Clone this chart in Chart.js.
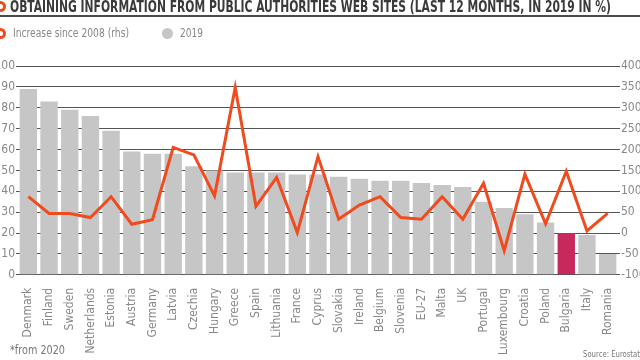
<!DOCTYPE html>
<html>
<head>
<meta charset="utf-8">
<script src="https://cdn.jsdelivr.net/npm/chart.js@4"></script>
<style>
  body { margin: 0; width: 640px; height: 360px; overflow: hidden; background: #fff; position: relative;
         font-family: 'DejaVu Sans Condensed', 'Liberation Sans Narrow', sans-serif; }
  #titulo { position: absolute; left: 0; top: 0; width: 640px; height: 15px; border-bottom: 2px solid #4a4a4a; }
  #titulo .txt { position: absolute; left: 10px; top: -2px; font-weight: bold; font-size: 15px; color: #3a3a3a;
                 white-space: nowrap; transform-origin: 0 0; }
  .anillo { position: absolute; width: 5px; height: 5px; border: 3px solid #f04a1e; border-radius: 50%; background: #fff; }
  #leyenda { position: absolute; left: 0; top: 25px; height: 16px; width: 640px; }
  #leyenda .txt { position: absolute; top: 0; font-size: 13px; color: #888; white-space: nowrap; transform-origin: 0 0; }
  .punto { position: absolute; width: 11px; height: 11px; border-radius: 50%; background: #c6c6c6; }
  #wrap { position: absolute; left: 0; top: 0; width: 640px; height: 360px; }
  #nota { position: absolute; left: 10px; top: 343px; font-size: 12px; color: #777; white-space: nowrap; transform-origin: 0 0; }
  #fuente { position: absolute; left: 583px; top: 349px; font-size: 9px; color: #777; white-space: nowrap; transform-origin: 0 0; }
</style>
</head>
<body>
<div id="wrap"><canvas id="grafico"></canvas></div>
<div id="titulo"><span class="anillo" style="left:-5px; top:1px;"></span><span class="txt" data-ancho="601">OBTAINING INFORMATION FROM PUBLIC AUTHORITIES WEB SITES (LAST 12 MONTHS, IN 2019 IN %)</span></div>
<div id="leyenda">
  <span class="anillo" style="left:-5px; top:3px;"></span>
  <span class="txt" style="left:13px;" data-ancho="116">Increase since 2008 (rhs)</span>
  <span class="punto" style="left:162px; top:3px;"></span>
  <span class="txt" style="left:180px;" data-ancho="23">2019</span>
</div>
<div id="nota" data-ancho="55">*from 2020</div>
<div id="fuente" data-ancho="57">Source: Eurostat</div>
<script>
// Datos
const paises = ['Denmark', 'Finland', 'Sweden', 'Netherlands', 'Estonia', 'Austria', 'Germany', 'Latvia',
    'Czechia', 'Hungary', 'Greece', 'Spain', 'Lithuania', 'France', 'Cyprus', 'Slovakia', 'Ireland',
    'Belgium', 'Slovenia', 'EU-27', 'Malta', 'UK', 'Portugal', 'Luxembourg', 'Croatia', 'Poland',
    'Bulgaria', 'Italy', 'Romania'];
const valores2019 = [89, 83, 79, 76, 69, 59, 58, 58, 52, 50, 49, 49, 49, 48, 48, 47, 46, 45, 45, 44,
    43, 42, 35, 32, 29, 25, 20, 19, 10];
const aumento2008 = [87, 47, 47, 37, 87, 21, 32, 205, 187, 89, 349, 64, 133, 1, 183, 33, 67, 87, 37, 33,
    87, 33, 119, -42, 141, 22, 148, 5, 47];
const destacado = 'Bulgaria';

// Textos comprimidos al ancho del original
document.querySelectorAll('[data-ancho]').forEach(el => {
    const w = el.getBoundingClientRect().width;
    el.style.transform = 'scaleX(' + (Number(el.dataset.ancho) / w) + ')';
});

const gris = '#c6c6c6';
const naranja = '#f04a1e';
const coloresBarras = paises.map(p => p === destacado ? '#c8285c' : gris);

const fuente = "'DejaVu Sans Condensed', sans-serif";

const data = {
    labels: paises,
    datasets: [{
        type: 'line',
        label: 'Increase since 2008 (rhs)',
        data: aumento2008,
        yAxisID: 'y1',
        borderColor: naranja,
        borderWidth: 3,
        pointRadius: 0,
        tension: 0,
        order: 0
    }, {
        type: 'bar',
        label: '2019',
        data: valores2019,
        yAxisID: 'y',
        backgroundColor: coloresBarras,
        barPercentage: 0.84,
        categoryPercentage: 1,
        order: 1
    }]
};

const config = {
    data: data,
    options: {
        responsive: true,
        maintainAspectRatio: false,
        animation: false,
        layout: { padding: { top: 66, bottom: 0, left: 0, right: 0 } },
        plugins: {
            legend: { display: false },
            title: { display: false },
            tooltip: { enabled: false }
        },
        scales: {
            x: {
                grid: { display: false },
                border: { display: false },
                ticks: {
                    autoSkip: false,
                    minRotation: 90,
                    maxRotation: 90,
                    padding: 5,
                    color: '#888',
                    font: { family: fuente, size: 12 }
                }
            },
            y: {
                position: 'left',
                min: 0,
                max: 100,
                afterFit: (s) => { s.width = 18; },
                ticks: { stepSize: 10, color: '#888', font: { family: fuente, size: 12 }, padding: 1 },
                grid: { color: '#555', lineWidth: 1, tickLength: 2 },
                border: { display: false }
            },
            y1: {
                position: 'right',
                min: -100,
                max: 400,
                afterFit: (s) => { s.width = 22; },
                ticks: { stepSize: 50, color: '#888', font: { family: fuente, size: 12 }, padding: 1 },
                grid: { drawOnChartArea: false, color: '#555', tickLength: 2 },
                border: { display: false }
            }
        }
    }
};

new Chart(document.getElementById('grafico'), config);
</script>
</body>
</html>
